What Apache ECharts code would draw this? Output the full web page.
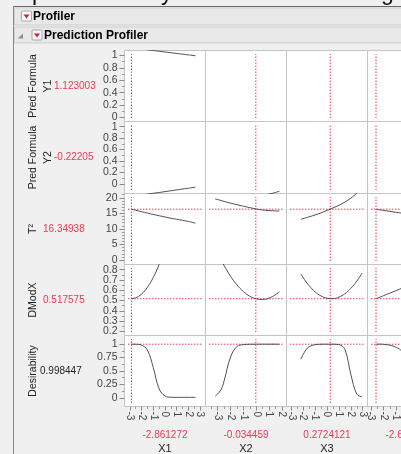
<!doctype html>
<html>
<head>
<meta charset="UTF-8">
<title>Prediction Profiler</title>
<script src="https://cdn.jsdelivr.net/npm/echarts@6/dist/echarts.min.js"></script>
<style>
html, body { margin: 0; padding: 0; background: #f0f0f0; overflow: hidden; }
#chart { width: 401px; height: 454px; }
</style>
</head>
<body>
<div id="chart"></div>
<script>
// ---- factors (columns) ----
var factorNames = ['X1', 'X2', 'X3', 'X4'];
var factorCurrent = [-2.861272, -0.034459, 0.2724121, -2.617434];
var factorText = ['-2.861272', '-0.034459', '0.2724121', '-2.617434'];
var factorMin = [-3.45, -3.95, -3.4, -3.3];
var factorMax = [3.45, 2.35, 3.4, 3.2];
var factorTicks = [
  [-3, -2, -1, 0, 1, 2, 3],
  [-3, -2, -1, 0, 1, 2],
  [-3, -2, -1, 0, 1, 2, 3],
  [-3, -2, -1, 0, 1, 2, 3]
];
var factorMinorTicks = [
  [-2.5, -1.5, -0.5, 0.5, 1.5, 2.5],
  [-3.5, -2.5, -1.5, -0.5, 0.5, 1.5],
  [-2.5, -1.5, -0.5, 0.5, 1.5, 2.5],
  [-2.5, -1.5, -0.5, 0.5, 1.5, 2.5]
];

// points along each factor where the profile traces are read
var x1Pts = [-2.86, -2.5, -2, -1.5, -1, -0.5, 0, 0.5, 1, 1.5, 2, 2.6];
var x2Pts = [-3.2, -2.75, -2.5, -2, -1.5, -1, -0.5, 0, 0.5, 1, 1.5, 1.8];
var x3Pts = [-2.2, -1.75, -1.5, -1, -0.5, 0, 0.5, 1, 1.5, 2, 2.5, 2.95];
var x4Pts = [-2.6, -2.25, -2, -1.5, -1, -0.5, 0, 0.5, 1, 1.5, 2, 2.5];
var factorPts = [x1Pts, x2Pts, x3Pts, x4Pts];

// ---- responses (rows) ----
var responseNames = ['Pred Formula\nY1', 'Pred Formula\nY2', 'T²', 'DModX', 'Desirability'];
var responseCurrent = [1.123003, -0.22205, 16.34938, 0.517575, 0.998447];
var responseText = ['1.123003', '-0.22205', '16.34938', '0.517575', '0.998447'];
var responseMin = [-0.065, -0.17, -1.45, 0.16, -0.16];
var responseMax = [1.08, 1.09, 21.4, 0.85, 1.16];
var responseTicks = [
  [0, 0.2, 0.4, 0.6, 0.8, 1],
  [0, 0.2, 0.4, 0.6, 0.8, 1],
  [0, 5, 10, 15, 20],
  [0.2, 0.3, 0.4, 0.5, 0.6, 0.7, 0.8],
  [0, 0.25, 0.5, 0.75, 1]
];
var responseMinorTicks = [
  [0.1, 0.3, 0.5, 0.7, 0.9],
  [0.1, 0.3, 0.5, 0.7, 0.9],
  [1, 2, 3, 4, 6, 7, 8, 9, 11, 12, 13, 14, 16, 17, 18, 19, 21],
  [0.25, 0.35, 0.45, 0.55, 0.65, 0.75],
  [0.125, 0.375, 0.625, 0.875]
];

// ---- profile traces: one list per factor ----
var y1Trace = [
  [1.123, 1.115, 1.103, 1.091, 1.080, 1.068, 1.056, 1.044, 1.033, 1.021, 1.009, 0.995],
  [1.165, 1.158, 1.153, 1.145, 1.139, 1.134, 1.128, 1.123, 1.119, 1.116, 1.114, 1.113],
  [1.150, 1.145, 1.142, 1.137, 1.132, 1.126, 1.121, 1.117, 1.113, 1.110, 1.108, 1.106],
  [1.123, 1.125, 1.127, 1.130, 1.134, 1.138, 1.142, 1.146, 1.150, 1.154, 1.158, 1.162]
];
var y2Trace = [
  [-0.222, -0.211, -0.196, -0.181, -0.166, -0.152, -0.137, -0.122, -0.107, -0.092, -0.077, -0.059],
  [-0.36, -0.34, -0.33, -0.31, -0.29, -0.265, -0.24, -0.221, -0.20, -0.18, -0.152, -0.128],
  [-0.25, -0.24, -0.236, -0.23, -0.226, -0.223, -0.222, -0.224, -0.228, -0.234, -0.242, -0.25],
  [-0.222, -0.226, -0.229, -0.235, -0.242, -0.25, -0.258, -0.266, -0.274, -0.282, -0.29, -0.3]
];
var t2Trace = [
  [16.35, 16.0, 15.55, 15.1, 14.66, 14.24, 13.84, 13.46, 13.1, 12.75, 12.4, 11.85],
  [19.7, 19.15, 18.85, 18.3, 17.8, 17.3, 16.85, 16.4, 16.1, 15.9, 15.8, 15.78],
  [13.1, 13.6, 13.9, 14.5, 15.15, 15.95, 16.75, 17.6, 18.65, 19.9, 21.5, 23.2],
  [16.35, 16.1, 15.95, 15.65, 15.35, 15.05, 14.8, 14.6, 14.45, 14.35, 14.3, 14.3]
];
var dmodxTrace = [
  [0.518, 0.526, 0.562, 0.628, 0.724, 0.85, 1.0, 1.17, 1.36, 1.57, 1.8, 2.1],
  [1.017, 0.898, 0.839, 0.735, 0.651, 0.587, 0.542, 0.516, 0.510, 0.524, 0.557, 0.587],
  [0.758, 0.680, 0.644, 0.584, 0.544, 0.522, 0.518, 0.533, 0.566, 0.618, 0.688, 0.767],
  [0.518, 0.535, 0.548, 0.572, 0.596, 0.622, 0.65, 0.68, 0.71, 0.745, 0.78, 0.82]
];
var desirTrace = [
  [0.998, 0.997, 0.98, 0.89, 0.565, 0.17, 0.035, 0.012, 0.01, 0.01, 0.01, 0.01],
  [0.03, 0.15, 0.32, 0.76, 0.955, 0.99, 0.997, 0.998, 0.998, 0.998, 0.998, 0.998],
  [0.72, 0.9, 0.95, 0.99, 0.997, 0.998, 0.998, 0.99, 0.9, 0.44, 0.07, 0.02],
  [0.998, 0.998, 0.995, 0.98, 0.94, 0.86, 0.7, 0.45, 0.2, 0.06, 0.02, 0.01]
];
var traces = [y1Trace, y2Trace, t2Trace, dmodxTrace, desirTrace];

// ---- layout ----
var colLeft = [124.5, 205.5, 286.5, 367.5];
var colWidth = 81;
var rowTop = [50.5, 121.5, 193.5, 264.5, 335.5];
var rowHeight = [71, 72, 71, 71, 71];

var RED = '#ee3a52';
var FONT = "'Liberation Sans', Arial, sans-serif";

var grids = [], xAxes = [], yAxes = [], series = [];

// labels are split over two axes so the tightly packed ones don't get dropped
function pick(list, odd) {
  return list.filter(function (v, i) { return (i % 2 === 1) === odd; });
}

for (var r = 0; r < 5; r++) {
  for (var c = 0; c < 4; c++) {
    var gi = grids.length;
    grids.push({
      left: colLeft[c], top: rowTop[r], width: colWidth, height: rowHeight[r],
      containLabel: false, outerBoundsMode: 'none',
      show: true, backgroundColor: '#ffffff', borderColor: '#c4c4c4', borderWidth: 1
    });
    var bottom = (r === 4), first = (c === 0);
    var xi = xAxes.length;
    xAxes.push({
      gridIndex: gi, type: 'value', position: 'bottom',
      min: factorMin[c], max: factorMax[c],
      splitLine: { show: false }, axisLine: { show: false, onZero: false },
      axisTick: { show: bottom, customValues: factorTicks[c], length: 4, lineStyle: { color: '#8a8a8a' } },
      axisLabel: { show: bottom, customValues: factorTicks[c], rotate: -90, margin: 5,
        showMinLabel: true, showMaxLabel: true, hideOverlap: false,
        fontSize: 10, color: '#444', fontFamily: FONT }
    });
    var yi = yAxes.length;
    yAxes.push({
      gridIndex: gi, type: 'value', position: 'left',
      min: responseMin[r], max: responseMax[r],
      splitLine: { show: false }, axisLine: { show: false, onZero: false },
      axisTick: { show: first, customValues: responseTicks[r], length: 5, lineStyle: { color: '#8a8a8a' } },
      axisLabel: { show: first, customValues: pick(responseTicks[r], false), margin: 7,
        showMinLabel: true, showMaxLabel: true, hideOverlap: false,
        fontSize: 10.5, color: '#444', fontFamily: FONT }
    });
    if (bottom) {
      xAxes.push({
        gridIndex: gi, type: 'value', position: 'bottom',
        min: factorMin[c], max: factorMax[c],
        splitLine: { show: false }, axisLine: { show: false, onZero: false }, axisLabel: { show: false },
        axisTick: { show: true, customValues: factorMinorTicks[c], length: 2.5, lineStyle: { color: '#9a9a9a' } }
      });
    }
    if (first) {
      yAxes.push({
        gridIndex: gi, type: 'value', position: 'left',
        min: responseMin[r], max: responseMax[r],
        splitLine: { show: false }, axisLine: { show: false, onZero: false },
        axisTick: { show: true, customValues: responseMinorTicks[r], length: 2.5, lineStyle: { color: '#9a9a9a' } },
        axisLabel: { show: true, customValues: pick(responseTicks[r], true), margin: 7,
          showMinLabel: true, showMaxLabel: true, hideOverlap: false,
          fontSize: 10.5, color: '#444', fontFamily: FONT }
      });
    }

    // profile trace
    var pts = factorPts[c], vals = traces[r][c], data = [];
    for (var k = 0; k < pts.length; k++) data.push([pts[k], vals[k]]);
    series.push({
      type: 'line', xAxisIndex: xi, yAxisIndex: yi, data: data,
      showSymbol: false, smooth: 0.4, clip: true, silent: true,
      lineStyle: { color: '#505050', width: 1 }, z: 3
    });

    // current factor setting (vertical red dotted)
    var yPad = (responseMax[r] - responseMin[r]) * 3.5 / rowHeight[r];
    series.push({
      type: 'line', xAxisIndex: xi, yAxisIndex: yi, showSymbol: false, silent: true,
      data: [[factorCurrent[c], responseMin[r] + yPad], [factorCurrent[c], responseMax[r] - yPad]],
      lineStyle: { color: RED, width: 1, type: [1.5, 1.5] }, z: 2
    });

    // current response value (horizontal red dotted) when it's inside the panel
    if (responseCurrent[r] > responseMin[r] && responseCurrent[r] < responseMax[r]) {
      var xPad = (factorMax[c] - factorMin[c]) * 3.5 / colWidth;
      series.push({
        type: 'line', xAxisIndex: xi, yAxisIndex: yi, showSymbol: false, silent: true,
        data: [[factorMin[c] + xPad, responseCurrent[r]], [factorMax[c] - xPad, responseCurrent[r]]],
        lineStyle: { color: RED, width: 1, type: [1.5, 1.5] }, z: 2
      });
    }
  }
}

// ---- labels and header drawn as graphic ----
var graphics = [];

// cut-off title line at the very top
graphics.push({ type: 'text', x: 14, y: 5.5, z: 1, style: { text: 'Optimize the system conditions using', fontSize: 23,
  fontFamily: FONT, fill: '#111', verticalAlign: 'bottom', align: 'left' } });
graphics.push({ type: 'rect', z: 2, shape: { x: 13, y: 6, width: 390, height: 1 }, style: { fill: '#666' } });
graphics.push({ type: 'rect', z: 2, shape: { x: 13, y: 6, width: 1, height: 460 }, style: { fill: '#8a8a8a' } });

// outline headers
function header(y, h, btnX, textX, label, disclosure) {
  graphics.push({ type: 'rect', z: 3, shape: { x: 14.5, y: y + 0.5, width: 390, height: h }, style: { fill: '#e8e8e8', stroke: '#cfcfcf', lineWidth: 1 } });
  graphics.push({ type: 'rect', z: 4, shape: { x: btnX + 0.5, y: y + 3.5, width: 10, height: 10, r: 1 }, style: { fill: '#f9f9f9', stroke: '#a8a8a8', lineWidth: 1 } });
  graphics.push({ type: 'polygon', z: 5, shape: { points: [[btnX + 2.5, y + 7], [btnX + 8.5, y + 7], [btnX + 5.5, y + 11]] }, style: { fill: '#d9202c' } });
  graphics.push({ type: 'text', z: 5, x: textX, y: y + h / 2 + 1, style: { text: label, fontSize: 12, fontWeight: 'bold', fontFamily: FONT, fill: '#000', verticalAlign: 'middle' } });
  if (disclosure) {
    graphics.push({ type: 'polygon', z: 5, shape: { points: [[18, y + 12], [23, y + 7], [23, y + 12]] }, style: { fill: '#8c8c8c' } });
  }
}
header(7.5, 17, 21, 33, 'Profiler', false);
header(26.5, 16, 31.5, 44, 'Prediction Profiler', true);

// response names and current values on the left
var nameX = [40.5, 40.5, 33, 33, 33];
var valueX = [54, 54, 43, 43, 40];
for (var r2 = 0; r2 < 5; r2++) {
  var cy = rowTop[r2] + rowHeight[r2] / 2;
  graphics.push({ type: 'text', x: nameX[r2], y: cy, rotation: Math.PI / 2,
    style: { text: responseNames[r2], fontSize: 10.5, lineHeight: 15, fontFamily: FONT, fill: '#222', align: 'center', verticalAlign: 'middle' } });
  graphics.push({ type: 'text', x: valueX[r2], y: cy,
    style: { text: responseText[r2], fontSize: 10, fontFamily: FONT, fill: r2 === 4 ? '#222' : RED, align: 'left', verticalAlign: 'middle' } });
}

// factor values and names under the columns
for (var c2 = 0; c2 < 4; c2++) {
  var cx = colLeft[c2] + colWidth / 2;
  graphics.push({ type: 'text', x: cx, y: 435, style: { text: factorText[c2], fontSize: 10, fontFamily: FONT, fill: RED, align: 'center', verticalAlign: 'middle' } });
  graphics.push({ type: 'text', x: cx, y: 449, style: { text: factorNames[c2], fontSize: 11, fontFamily: FONT, fill: '#222', align: 'center', verticalAlign: 'middle' } });
}

var chart = echarts.init(document.getElementById('chart'), null, { renderer: 'canvas' });
chart.setOption({
  backgroundColor: '#f0f0f0',
  animation: false,
  grid: grids,
  xAxis: xAxes,
  yAxis: yAxes,
  series: series,
  graphic: graphics
});
</script>
</body>
</html>
